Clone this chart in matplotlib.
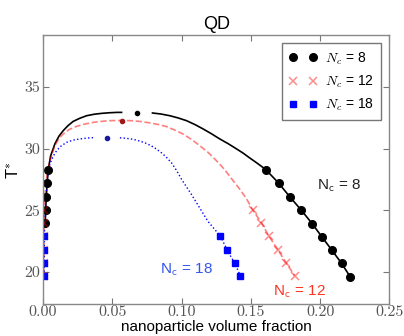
import matplotlib
matplotlib.use("Agg")
import matplotlib.pyplot as plt

plt.rcParams['font.family'] = ['Liberation Sans', 'DejaVu Sans']
plt.rcParams['mathtext.fontset'] = 'cm'

# simulation points (markers), N_c = 8, 12, 18
x8 = [0.0017, 0.0019, 0.0024, 0.0030, 0.0038,
      0.1607, 0.1700, 0.1780, 0.1864, 0.1943, 0.2015, 0.2082, 0.2154, 0.2217]
t8 = [24.0, 25.0, 26.1, 27.2, 28.3,
      28.3, 27.2, 26.1, 25.0, 23.9, 22.8, 21.8, 20.7, 19.6]
x12 = [0.0010, 0.0010, 0.0009, 0.0009, 0.0008, 0.0008,
       0.1515, 0.1575, 0.1630, 0.1695, 0.1756, 0.1816]
t12 = [25.0, 24.0, 22.9, 21.8, 20.7, 19.7,
       25.0, 24.0, 22.9, 21.8, 20.7, 19.7]
x18 = [0.0008, 0.0008, 0.0008, 0.0008,
       0.1280, 0.1328, 0.1383, 0.1424]
t18 = [22.9, 21.8, 20.7, 19.7,
       22.9, 21.8, 20.7, 19.7]

# theory curves (left and right branches)
c8_left_x = [0.0017, 0.0019, 0.0024, 0.0030, 0.0038, 0.0055, 0.0086, 0.0115, 0.0146,
             0.0180, 0.0218, 0.0265, 0.0315, 0.0370, 0.0423, 0.0480, 0.0535, 0.0567]
c8_left_t = [24.0, 25.0, 26.1, 27.2, 28.3, 29.4, 30.38, 31.0, 31.45,
             31.85, 32.2, 32.45, 32.66, 32.78, 32.85, 32.9, 32.93, 32.93]
c8_right_x = [0.079, 0.085, 0.0915, 0.0975, 0.1035, 0.1095, 0.1155, 0.1215, 0.1275,
              0.1335, 0.1395, 0.1445, 0.149, 0.1547, 0.1607,
              0.1700, 0.1780, 0.1864, 0.1943, 0.2015, 0.2082, 0.2154, 0.2217]
c8_right_t = [32.88, 32.8, 32.66, 32.48, 32.26, 31.95, 31.59, 31.2, 30.78,
              30.4, 29.98, 29.62, 29.25, 28.8, 28.3,
              27.2, 26.1, 25.0, 23.9, 22.8, 21.8, 20.7, 19.6]

c12_x = [0.0008, 0.0009, 0.0010, 0.0015, 0.0022, 0.0035, 0.0055, 0.0086, 0.0115, 0.0146,
         0.0190, 0.0243, 0.0300, 0.0363, 0.0420, 0.0483, 0.0571, 0.0650, 0.0710, 0.0770,
         0.0830, 0.0890, 0.0950, 0.1010, 0.1070, 0.1130, 0.1190, 0.1250, 0.1310, 0.1370,
         0.1420, 0.1467,
         0.1515, 0.1575, 0.1630, 0.1695, 0.1756, 0.1816]
c12_t = [19.7, 22.9, 25.0, 26.3, 27.3, 28.3, 29.17, 30.24, 30.8, 31.18,
         31.55, 31.8, 31.98, 32.12, 32.2, 32.26, 32.28, 32.25, 32.18, 32.08,
         31.95, 31.78, 31.5, 31.18, 30.75, 30.24, 29.7, 29.03, 28.3, 27.42,
         26.7, 25.95,
         25.0, 24.0, 22.9, 21.8, 20.7, 19.7]

c18_left_x = [0.0008, 0.0010, 0.0015, 0.0025, 0.0035, 0.0050, 0.0075, 0.0099, 0.0130,
              0.0170, 0.0215, 0.0267, 0.0320, 0.0375]
c18_left_t = [19.7, 22.9, 25.0, 26.5, 27.8, 28.77, 29.4, 29.84, 30.2,
              30.5, 30.68, 30.78, 30.85, 30.89]
c18_right_x = [0.0555, 0.060, 0.065, 0.070, 0.075, 0.080, 0.085, 0.089, 0.093, 0.0965,
               0.100, 0.1035, 0.107, 0.110, 0.113, 0.116, 0.119, 0.1235,
               0.1280, 0.1328, 0.1383, 0.1424]
c18_right_t = [30.87, 30.83, 30.75, 30.6, 30.4, 30.1, 29.7, 29.3, 28.8, 28.2,
               27.5, 26.9, 26.3, 25.75, 25.2, 24.65, 24.1, 23.5,
               22.9, 21.8, 20.7, 19.7]

# critical points
crit_x = [0.0677, 0.0571, 0.0463]
crit_t = [32.9, 32.26, 30.87]
crit_colors = ['black', '#a01818', '#1a1aa0']

xticks = [0.00, 0.05, 0.10, 0.15, 0.20, 0.25]
yticks = [20, 25, 30, 35]

fig = plt.figure(figsize=(4.04, 3.36), dpi=100)
ax = fig.add_axes([0.1064, 0.0952, 0.8577, 0.8006])

ax.plot(c8_left_x, c8_left_t, '-', color='black', lw=1.2)
ax.plot(c8_right_x, c8_right_t, '-', color='black', lw=1.2)
ax.plot(c12_x, c12_t, '--', color='red', alpha=0.5, lw=1.2)
ax.plot(c18_left_x, c18_left_t, ':', color='blue', lw=1.0)
ax.plot(c18_right_x, c18_right_t, ':', color='blue', lw=1.0)

ax.plot(x8, t8, 'o', color='black', ms=5.5, ls='none', label=r'$N_c$ = 8')
ax.plot(x12, t12, 'x', color='red', alpha=0.45, ms=6, mew=1.1, ls='none', label=r'$N_c$ = 12')
ax.plot(x18, t18, 's', color='blue', ms=5, ls='none', label=r'$N_c$ = 18')

for cx, ct, cc in zip(crit_x, crit_t, crit_colors):
    ax.plot(cx, ct, 'o', color=cc, ms=3)

ax.text(0.214, 27.0, r'N$_{\mathsf{c}}$ = 8', color='#222222', fontsize=11, ha='center', va='center')
ax.text(0.185, 18.4, r'N$_{\mathsf{c}}$ = 12', color='#ff3322', fontsize=11, ha='center', va='center')
ax.text(0.1035, 20.2, r'N$_{\mathsf{c}}$ = 18', color='#3355ee', fontsize=11, ha='center', va='center')

ax.set_xlim(0, 0.25)
ax.set_ylim(17.4, 39.2)
ax.set_xticks(xticks, labels=['%.2f' % v for v in xticks], fontfamily='cmr10', fontsize=11.5, color='#555555')
ax.set_yticks(yticks, labels=[str(v) for v in yticks], fontfamily='cmr10', fontsize=11.5, color='#555555')
ax.tick_params(direction='in', top=True, right=True, length=4, width=0.8, color='#777777', pad=2)
ax.tick_params(axis='x', pad=1)
for s in ax.spines.values():
    s.set_color('#888888')
    s.set_linewidth(1.0)

ax.set_title('QD', fontsize=13, pad=4.5)
ax.set_xlabel('nanoparticle volume fraction', fontsize=11, va='center')
ax.xaxis.set_label_coords(0.5, -0.085)
ax.set_ylabel(r'T$^{*}$', fontsize=12, labelpad=2)

leg = ax.legend(loc='upper right', numpoints=2, fancybox=False, fontsize=10,
                borderaxespad=0.6, handlelength=2.0, handletextpad=0.6,
                labelspacing=0.5, borderpad=0.5)
leg.get_frame().set_edgecolor('#555555')
leg.get_frame().set_linewidth(1.0)

fig.savefig('out.png', dpi=100)
